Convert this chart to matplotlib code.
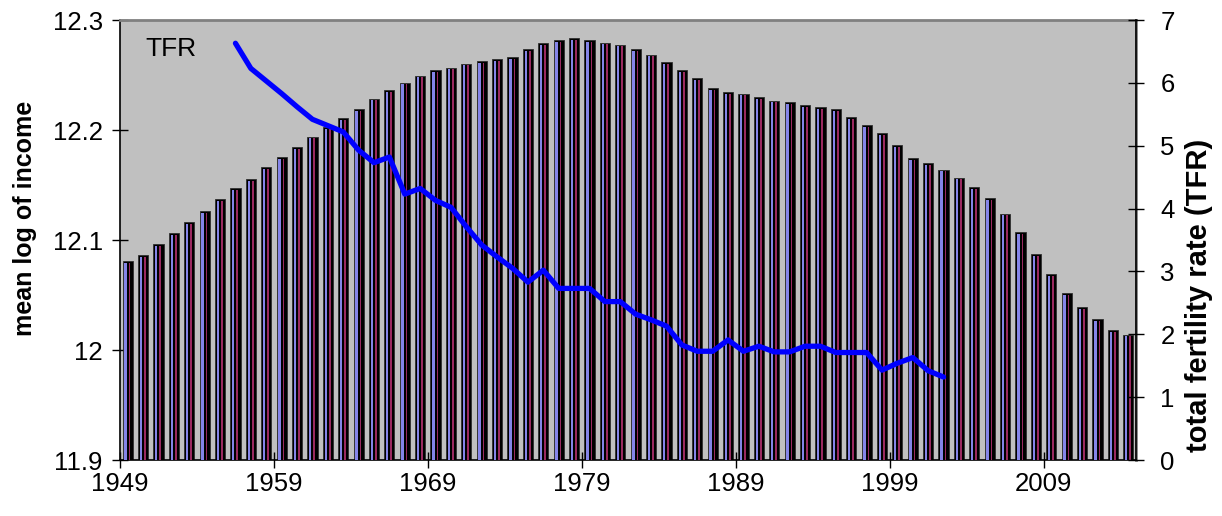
import matplotlib
matplotlib.use("Agg")
import matplotlib.pyplot as plt
import matplotlib.transforms as mtransforms
import numpy as np

years = list(range(1949, 2015))
income = [12.081, 12.086, 12.096, 12.106, 12.116, 12.126, 12.137, 12.147, 12.1555, 12.166,
          12.1755, 12.1845, 12.194, 12.2027, 12.211, 12.219, 12.2285, 12.236, 12.243, 12.2494,
          12.2545, 12.2567, 12.2603, 12.2627, 12.2645, 12.2664, 12.2736, 12.279, 12.2818, 12.2836,
          12.282, 12.2794, 12.2776, 12.2736, 12.2685, 12.2615, 12.2543, 12.2473, 12.2382, 12.2345,
          12.233, 12.230, 12.2267, 12.2255, 12.2224, 12.2206, 12.219, 12.212, 12.2045, 12.197,
          12.1864, 12.1743, 12.170, 12.164, 12.1567, 12.148, 12.138, 12.124, 12.107, 12.087,
          12.069, 12.052, 12.039, 12.028, 12.018, 12.014]

tfr_years = list(range(1956, 2003))
tfr = [6.63, 6.23, 6.03, 5.83, 5.62, 5.42, 5.32, 5.22, 4.93, 4.73,
       4.82, 4.23, 4.32, 4.13, 4.02, 3.71, 3.42, 3.23, 3.05, 2.83,
       3.02, 2.73, 2.73, 2.73, 2.52, 2.52, 2.32, 2.23, 2.13, 1.83,
       1.73, 1.73, 1.91, 1.73, 1.81, 1.72, 1.72, 1.81, 1.81, 1.71,
       1.71, 1.71, 1.43, 1.54, 1.63, 1.42, 1.32]

xtick_years = [1949, 1959, 1969, 1979, 1989, 1999, 2009]
left_ticks = [11.9, 12.0, 12.1, 12.2, 12.3]
left_ticklabels = ["11.9", "12", "12.1", "12.2", "12.3"]
right_ticks = [0, 1, 2, 3, 4, 5, 6, 7]

plt.rcParams['font.family'] = ['Liberation Sans', 'DejaVu Sans']

W, H = 1222, 516
fig = plt.figure(figsize=(W / 100, H / 100), dpi=100)
L, R, T, B = 120, 1136, 20, 460
ax = fig.add_axes([L / W, 1 - B / H, (R - L) / W, (B - T) / H])
ax.set_facecolor('#c0c0c0')

ybase = 11.9
x = np.array(years, dtype=float)
v = np.array(income)
ax.bar(x, v - ybase, bottom=ybase, width=0.66, color='black', edgecolor='#303030',
       linewidth=0.6, zorder=2)
inner = v - ybase - 0.0016
ax.bar(x - 0.14, inner, bottom=ybase, width=0.15, color='#8585e8', linewidth=0, zorder=3)
ax.bar(x + 0.12, inner, bottom=ybase, width=0.11, color='#9a2a60', linewidth=0, zorder=3)

ax.set_xlim(years[0] - 0.5, years[-1] + 0.5)
ax.set_ylim(11.9, 12.3)
ax.set_yticks(left_ticks)
ax.set_yticklabels(left_ticklabels)
ax.set_xticks([y - 0.5 for y in xtick_years])
ax.set_xticklabels([str(y) for y in xtick_years])
ax.tick_params(axis='both', direction='inout', length=11, width=1, colors='black',
               labelsize=18.5, pad=7)
ax.tick_params(axis='x', pad=3)
ax.set_ylabel('mean log of income', fontsize=18, fontweight='bold')
ax.yaxis.set_label_coords((37 - L) / (R - L), (B - 218) / (B - T))

for s in ['left', 'bottom']:
    ax.spines[s].set_color('black')
    ax.spines[s].set_linewidth(1.2)
ax.spines['top'].set_color('#808080')
ax.spines['top'].set_linewidth(2)
ax.spines['right'].set_color('#808080')
ax.spines['right'].set_linewidth(2)

ax2 = ax.twinx()
ax2.plot(tfr_years, tfr, color='#0000ff', linewidth=3.8, solid_capstyle='round',
         solid_joinstyle='round', zorder=5)
ax2.set_ylim(0, 7)
ax2.set_yticks(right_ticks)
ax2.tick_params(axis='y', direction='inout', length=11, width=1, labelsize=18.5, pad=12)
ax2.set_ylabel('total fertility rate (TFR)', fontsize=21, fontweight='bold')
ax2.yaxis.set_label_coords((1185 - L) / (R - L), (B - 295) / (B - T))
ax2.spines['right'].set_color('black')
ax2.spines['right'].set_linewidth(1.2)
for s in ['top', 'left', 'bottom']:
    ax2.spines[s].set_visible(False)

pix = mtransforms.Affine2D().scale(1, -1).translate(0, H)
fig.text(145, 49, 'TFR', transform=pix, fontsize=19, va='center', ha='left')

fig.savefig('out.png', dpi=100, facecolor='white')
